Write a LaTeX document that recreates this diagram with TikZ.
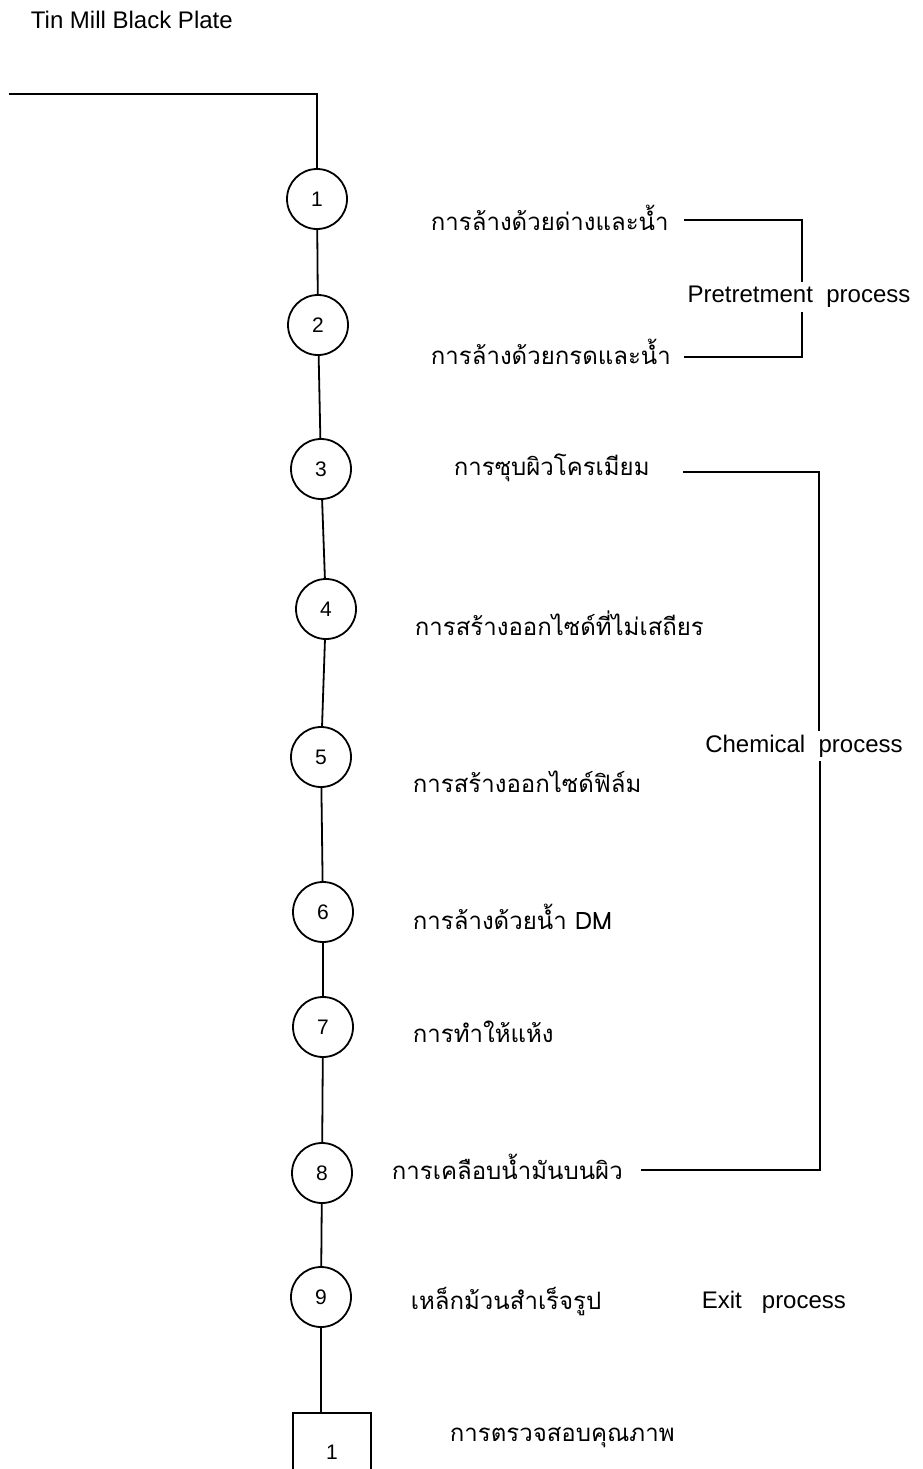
\documentclass[tikz,border=0pt]{standalone}
\usepackage{fontspec}
\setmainfont{Liberation Sans}
\newfontfamily\thaifont[Script=Thai]{Loma}
\usetikzlibrary{positioning}

\begin{document}
\begin{tikzpicture}[x=1pt,y=-1pt,line width=1.8pt]
  \tikzstyle{every node}=[font=\fontsize{24}{28}\selectfont]
  \tikzstyle{stage}=[circle,draw,minimum size=60pt,inner sep=0pt,font=\fontsize{21}{24}\selectfont]
  \tikzstyle{thai}=[anchor=west,inner sep=0pt,font=\thaifont\fontsize{24}{28}\selectfont]

  \useasboundingbox (0,0) rectangle (922,1469);
  \clip (0,0) rectangle (922,1469);

  \node[anchor=west,inner sep=0pt] (title) at (30,20) {Tin Mill Black Plate};

  \node[stage] (s_1) at (317,199)  {1};
  \node[stage] (s_2) at (318,325)  {2};
  \node[stage] (s_3) at (321,469)  {3};
  \node[stage] (s_4) at (326,609)  {4};
  \node[stage] (s_5) at (321,757)  {5};
  \node[stage] (s_6) at (323,912)  {6};
  \node[stage] (s_7) at (323,1027) {7};
  \node[stage] (s_8) at (322,1173) {8};
  \node[stage] (s_9) at (321,1297) {9};
  \node[draw,minimum width=78pt,minimum height=78pt,font=\fontsize{21}{24}\selectfont] (qc) at (332,1452) {1};

  \node[thai] (t_1)  at (430,218)  {การล้างด้วยด่างและน้ำ};
  \node[thai] (t_2)  at (430,352)  {การล้างด้วยกรดและน้ำ};
  \node[thai] (t_3)  at (453,468)  {การซุบผิวโครเมียม};
  \node[thai] (t_4)  at (414,623)  {การสร้างออกไซด์ที่ไม่เสถียร};
  \node[thai] (t_5)  at (412,782)  {การสร้างออกไซด์ฟิล์ม};
  \node[thai] (t_6)  at (412,917)  {การล้างด้วยน้ำ DM};
  \node[thai] (t_7)  at (412,1032) {การทำให้แห้ง};
  \node[thai] (t_8)  at (391,1167) {การเคลือบน้ำมันบนผิว};
  \node[thai] (t_9)  at (410,1302) {เหล็กม้วนสำเร็จรูป};
  \node[thai] (t_10) at (449,1438) {การตรวจสอบคุณภาพ};

  \node (pre)  at (799,297)  {Pretretment\ \ process};
  \node (chem) at (804,746)  {Chemical\ \ process};
  \node[anchor=west,inner sep=0pt] (exit) at (701,1302) {Exit\ \ \ process};

  \coordinate (feed) at (9,94);
  \coordinate (pre_a)  at (684,220);
  \coordinate (pre_b)  at (684,357);
  \coordinate (chem_a) at (683,472);
  \coordinate (chem_b) at (641,1170);

  % main line
  \draw (feed) -| (s_1);
  \draw (s_1) -- (s_2);
  \draw (s_2) -- (s_3);
  \draw (s_3) -- (s_4);
  \draw (s_4) -- (s_5);
  \draw (s_5) -- (s_6);
  \draw (s_6) -- (s_7);
  \draw (s_7) -- (s_8);
  \draw (s_8) -- (s_9);
  \draw (s_9) -- (qc.north -| s_9);

  % brackets
  \draw (pre_a) -| ([xshift=3pt]pre.north);
  \draw (pre_b) -| ([xshift=3pt]pre.south);
  \draw (chem_a) -| ([xshift=15pt]chem.north);
  \draw (chem_b) -| ([xshift=16pt]chem.south);
\end{tikzpicture}
\end{document}
